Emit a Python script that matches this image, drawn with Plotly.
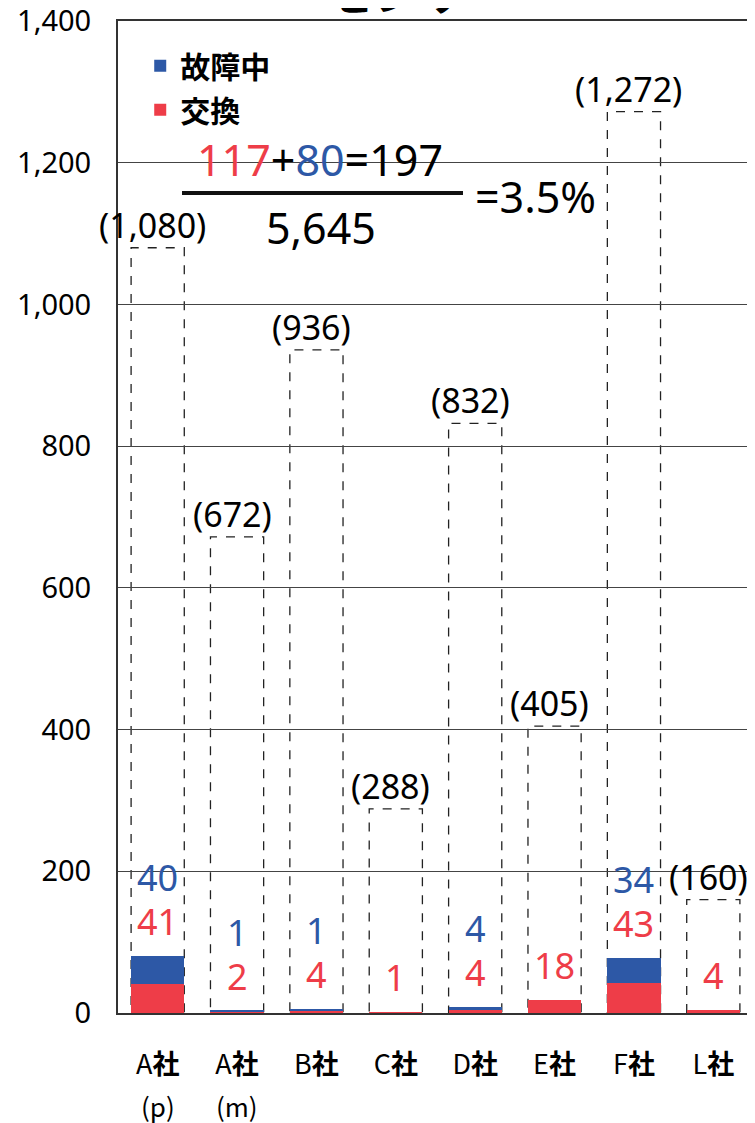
import plotly.graph_objects as go

# ---- data ----
companies = ["A社", "A社", "B社", "C社", "D社", "E社", "F社", "L社"]
sub_labels = ["(p)", "(m)", "", "", "", "", "", ""]
replaced = [41, 2, 4, 1, 4, 18, 43, 4]       # 交換
failing = [40, 1, 1, 0, 4, 0, 34, 0]         # 故障中
totals = [1080, 672, 936, 288, 832, 405, 1272, 160]
y_ticks = [0, 200, 400, 600, 800, 1000, 1200, 1400]

RED = "#EE3D48"
BLUE = "#2D58A6"
BAR_W = 0.67
NUM_FONT = "Noto Sans, sans-serif"
FONT = "Noto Sans, sans-serif"
CJK = "Noto Sans CJK JP, sans-serif"

xs = list(range(len(companies)))

fig = go.Figure()
fig.add_trace(go.Bar(x=xs, y=replaced, name="交換", marker=dict(color=RED, line=dict(width=0)),
                     width=BAR_W, legendgroup="r", legendrank=2))
fig.add_trace(go.Bar(x=xs, y=failing, name="故障中", marker=dict(color=BLUE, line=dict(width=0)),
                     width=BAR_W, legendgroup="b", legendrank=1))

shapes = []
annotations = []
for i, (r, b, t) in enumerate(zip(replaced, failing, totals)):
    # dashed outline for total units
    shapes.append(dict(type="rect", xref="x", yref="y", x0=i - BAR_W / 2, x1=i + BAR_W / 2,
                       y0=0, y1=t, line=dict(color="#222", width=1.3, dash="dash"),
                       fillcolor="rgba(0,0,0,0)", layer="below"))
    annotations.append(dict(x=i, y=t, xref="x", yref="y", text=f"({t:,})", showarrow=False,
                            xanchor="center", yanchor="bottom", yshift=-2, xshift=-5,
                            font=dict(family=FONT, size=34, color="black")))
    top = r + b
    annotations.append(dict(x=i, y=top, xref="x", yref="y", text=str(r), showarrow=False,
                            xanchor="center", yanchor="bottom", yshift=8,
                            font=dict(family=NUM_FONT, size=36, color=RED)))
    if b > 0:
        annotations.append(dict(x=i, y=top, xref="x", yref="y", text=str(b), showarrow=False,
                                xanchor="center", yanchor="bottom", yshift=52,
                                font=dict(family=NUM_FONT, size=36, color=BLUE)))
    if sub_labels[i]:
        annotations.append(dict(x=i, y=0, xref="x", yref="paper", text=sub_labels[i],
                                showarrow=False, xanchor="center", yanchor="middle", yshift=-92,
                                font=dict(family=CJK, size=26, color="black")))

# formula text
total_r = sum(replaced)
total_b = sum(failing)
grand = sum(totals)
annotations.append(dict(
    x=0.318, y=0.860, xref="paper", yref="paper", showarrow=False,
    xanchor="center", yanchor="middle",
    text=(f"<span style='color:{RED}'>{total_r}</span>+"
          f"<span style='color:{BLUE}'>{total_b}</span>={total_r + total_b}"),
    font=dict(family=NUM_FONT, size=43, color="black")))
annotations.append(dict(x=0.32, y=0.792, xref="paper", yref="paper", showarrow=False,
                        xanchor="center", yanchor="middle",
                        text=f"{grand:,}", font=dict(family=NUM_FONT, size=43, color="black")))
annotations.append(dict(x=0.657, y=0.823, xref="paper", yref="paper", showarrow=False,
                        xanchor="center", yanchor="middle",
                        text=f"={(total_r + total_b) / grand * 100:.1f}%",
                        font=dict(family=NUM_FONT, size=43, color="black")))
shapes.append(dict(type="line", xref="paper", yref="paper", x0=0.1008, x1=0.5433,
                   y0=0.8266, y1=0.8266, line=dict(color="#111", width=4)))

# cut-off title at the very top
annotations.append(dict(x=0.327, y=1.0, xref="paper", yref="paper", showarrow=False,
                        text="<b>センサー</b>", yanchor="bottom", yshift=-4, xanchor="left",
                        font=dict(family=CJK, size=46, color="black")))

# the page body has an 8px margin; compensate so the plot lands where the reference is
fig.update_layout(
    width=747, height=1115,
    margin=dict(l=110, r=2, t=13, b=110, autoexpand=False),
    paper_bgcolor="white", plot_bgcolor="white",
    barmode="stack", bargap=1 - BAR_W,
    showlegend=True,
    legend=dict(x=0.035, y=0.981, xanchor="left", yanchor="top",
                traceorder="grouped", tracegroupgap=2,
                bgcolor="rgba(0,0,0,0)",
                font=dict(family=CJK, size=30, color="black", weight="bold")),
    shapes=shapes, annotations=annotations,
    xaxis=dict(range=[-0.5, len(companies) - 0.5], tickvals=xs,
               ticktext=[c[0] + "<b>" + c[1:] + "</b>" for c in companies],
               showgrid=False, zeroline=False, showline=True, mirror=True,
               linecolor="#333", linewidth=2, ticks="", ticklabelstandoff=27,
               tickfont=dict(family=CJK, size=27, color="black")),
    yaxis=dict(range=[0, 1400], tickvals=y_ticks, tickformat=",d",
               showgrid=True, gridcolor="#444", gridwidth=1, zeroline=False,
               showline=True, mirror=True, linecolor="#333", linewidth=2,
               ticks="", ticklabelstandoff=19, ticklabeloverflow="allow",
               tickfont=dict(family=FONT, size=29, color="black")),
)

fig.write_html("out.html")
